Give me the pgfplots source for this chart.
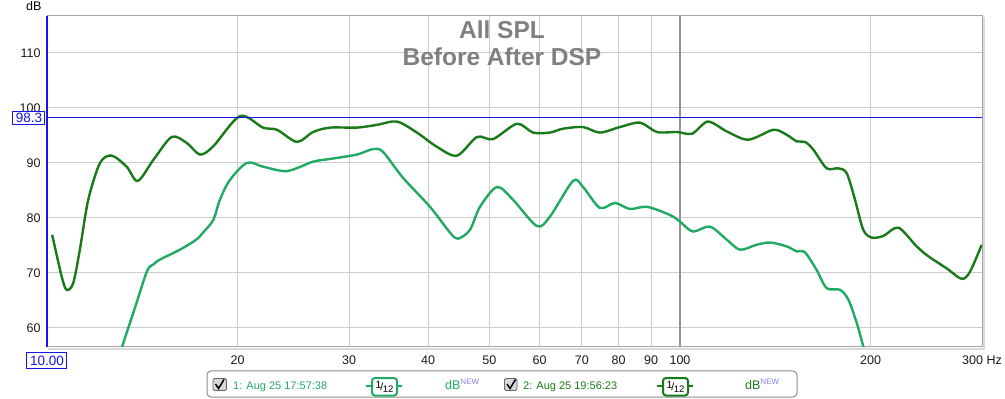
\documentclass[border=0pt]{standalone}
\usepackage{pgfplots}
\pgfplotsset{compat=1.18}
\usepackage{pgfplotstable}
\usepackage{fontspec}
\setmainfont{Liberation Sans}
\definecolor{darkg}{RGB}{25,122,25}
\definecolor{lightg}{RGB}{32,170,100}
\definecolor{gridc}{RGB}{204,204,204}
\definecolor{curblue}{RGB}{20,20,235}
\definecolor{titlegray}{RGB}{128,128,128}
\definecolor{newblue}{RGB}{130,130,240}

\pgfplotstableread{
f db
10.19 76.9
10.55 69.3
10.74 66.9
11.00 68.1
11.27 74.2
11.62 83.3
12.13 90.0
12.66 91.3
13.36 89.3
13.91 86.7
14.72 90.5
15.74 94.7
16.63 93.6
17.45 91.5
18.31 93.0
20.18 98.5
21.94 96.4
23.09 96.0
24.83 93.8
26.32 95.6
28.00 96.4
30.88 96.4
33.21 96.9
35.72 97.5
38.41 95.5
41.31 92.9
44.43 91.3
47.79 94.7
50.64 94.3
55.26 97.1
58.58 95.5
62.30 95.5
65.33 96.2
70.28 96.5
74.73 95.5
80.37 96.5
86.47 97.3
91.95 95.6
98.92 95.6
104.5 95.3
110.7 97.5
118.6 95.7
128.2 94.2
140.4 96.0
147.4 95.1
152.9 93.9
157.6 93.8
162.4 92.4
170.5 89.0
177.9 89.0
183.4 88.1
189.0 83.3
194.8 77.8
200.9 76.4
209.6 76.7
221.3 78.2
236.5 74.8
246.8 73.0
263.8 70.8
278.6 68.9
287.2 70.2
299.7 75.1
}\afterdsp

\pgfplotstableread{
f db
12.90 53.0
13.14 56.5
13.75 63.4
14.39 70.3
14.72 71.5
15.08 72.4
16.22 74.2
17.20 76.0
17.64 77.3
18.31 79.6
18.76 83.3
19.46 86.9
20.70 90.0
21.94 89.3
23.94 88.5
26.32 90.2
28.00 90.7
30.88 91.5
32.73 92.5
33.94 92.0
36.50 87.3
40.28 82.0
43.32 77.3
44.60 76.2
46.58 77.8
48.31 82.0
51.39 85.6
54.46 83.3
59.43 78.5
62.30 80.2
67.77 86.7
70.28 85.6
74.73 81.8
78.93 82.7
83.36 81.6
88.71 82.0
96.43 80.5
100.0 79.3
104.8 77.5
111.5 78.4
118.6 76.0
124.4 74.2
132.2 75.1
138.8 75.5
147.4 74.8
152.9 73.9
157.6 73.7
164.4 70.5
170.5 67.2
179.0 66.9
184.5 65.1
190.2 60.9
194.8 56.6
198.2 53.3
}\beforedsp

\begin{document}
\begin{tikzpicture}
\begin{axis}[
  at={(0pt,0pt)}, anchor=south west,
  scale only axis, width=935pt, height=331pt,
  xmode=log, xmin=10, xmax=300, ymin=56.5, ymax=116.7,
  xtick={20,30,40,50,60,70,80,90,200,300},
  xticklabels={20,30,40,50,60,70,80,90,200,300 Hz},
  extra x ticks={100}, extra x tick labels={100},
  extra x tick style={grid style={color=black!42, line width=1.3pt}},
  ytick={60,70,80,90,100,110},
  yticklabels={60,70,80,90,100,110},
  grid=major, grid style={gridc, line width=1pt},
  major tick length=0pt, minor tick length=0pt,
  axis line style={black!35, line width=1pt},
  tick label style={font=\fontsize{12.5}{14}\selectfont, text=black!90},
  xticklabel style={anchor=base, yshift=-18pt},
  yticklabel style={xshift=-3pt},
  /pgf/number format/assume math mode=true,
]
\addplot[color=lightg, line width=2.4pt, smooth] table[x=f,y=db]{\beforedsp};
\addplot[color=darkg, line width=2.4pt, smooth] table[x=f,y=db]{\afterdsp};
\draw[draw=curblue, line width=1.3pt] (axis cs:10,98.3) -- (axis cs:300,98.3);
\end{axis}

\begin{scope}[shift={(-47pt,347pt)}, x=1pt, y=-1pt]
  % shadows
  \draw[black!15, line width=2pt] (984,17) -- (984,349) -- (48,349);
  % blue cursor at left
  \draw[curblue, line width=2pt] (47,16) -- (47,347);
  % title
  \node[anchor=base, text=titlegray, font=\fontsize{24.5}{28}\selectfont\bfseries] at (502,38.5) {All SPL};
  \node[anchor=base, text=titlegray, font=\fontsize{24.5}{28}\selectfont\bfseries] at (502,65.5) {Before After DSP};
  % dB label
  \node[anchor=base west, inner sep=0pt, font=\fontsize{12.5}{14}\selectfont] at (26,11) {dB};
  % cursor boxes
  \node[draw=curblue, fill=white, text=curblue, line width=1pt, inner sep=0pt,
        minimum width=32pt, minimum height=12.5pt, font=\fontsize{13.5}{14}\selectfont] at (29,118) {98.3};
  \node[draw=curblue, fill=white, text=curblue, line width=1pt, inner sep=0pt,
        minimum width=40pt, minimum height=16pt, font=\fontsize{13.5}{14}\selectfont] at (47,361) {10.00};
  % legend frame
  \draw[black!45, line width=1pt, rounded corners=4pt] (207,371) rectangle (797,397);
  % item 1
  \draw[black!60, fill=black!15, line width=0.8pt, rounded corners=1.5pt] (213,378.5) rectangle (226.5,390.5);
  \draw[black, line width=1.5pt] (215.5,384) -- (218.5,388.5) -- (224,379.5);
  \node[anchor=base west, inner sep=0pt, text=lightg, font=\fontsize{11}{13}\selectfont] at (233,389.3) {1: Aug 25 17:57:38};
  \draw[lightg, line width=2pt] (366,386) -- (372,386) (397,386) -- (402,386);
  \draw[lightg, fill=white, line width=2pt, rounded corners=3pt] (372,378) rectangle (397,395.5);
  \node[inner sep=0pt, font=\fontsize{10.5}{10}\selectfont] at (384.5,386.5) {\raisebox{2pt}{1}\kern-1pt/\kern-0.5pt\raisebox{-2pt}{\fontsize{9.5}{9}\selectfont 12}};
  \node[anchor=base west, inner sep=0pt, text=lightg, font=\fontsize{12.5}{13}\selectfont] at (445,389.3) {dB\raisebox{5pt}{\fontsize{8}{8}\selectfont\color{newblue}NEW}};
  % item 2
  \draw[black!60, fill=black!15, line width=0.8pt, rounded corners=1.5pt] (504.5,378.5) rectangle (517,390.5);
  \draw[black, line width=1.5pt] (507,384) -- (510,388.5) -- (515.5,379.5);
  \node[anchor=base west, inner sep=0pt, text=darkg, font=\fontsize{11}{13}\selectfont] at (523,389.3) {2: Aug 25 19:56:23};
  \draw[darkg, line width=2pt] (657,386) -- (663,386) (688,386) -- (693,386);
  \draw[darkg, fill=white, line width=2pt, rounded corners=3pt] (663,378) rectangle (688,395.5);
  \node[inner sep=0pt, font=\fontsize{10.5}{10}\selectfont] at (675.5,386.5) {\raisebox{2pt}{1}\kern-1pt/\kern-0.5pt\raisebox{-2pt}{\fontsize{9.5}{9}\selectfont 12}};
  \node[anchor=base west, inner sep=0pt, text=darkg, font=\fontsize{12.5}{13}\selectfont] at (745,389.3) {dB\raisebox{5pt}{\fontsize{8}{8}\selectfont\color{newblue}NEW}};
\end{scope}
\pgfresetboundingbox
\useasboundingbox (-47pt,-52pt) rectangle (958pt,347pt);
\end{tikzpicture}
\end{document}
